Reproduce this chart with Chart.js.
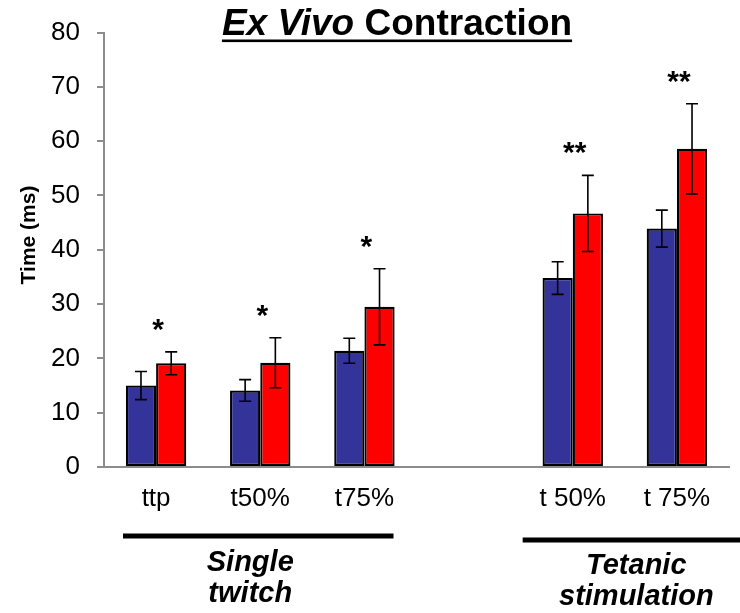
<!DOCTYPE html>
<html>
<head>
<meta charset="utf-8">
<title>Ex Vivo Contraction</title>
<script src="https://cdn.jsdelivr.net/npm/chart.js@4.4.0/dist/chart.umd.min.js"></script>
<style>
  html, body { margin: 0; padding: 0; background: #fff; }
  #wrap { width: 740px; height: 613px; }
</style>
</head>
<body>
<div id="wrap"><canvas id="contraction" width="740" height="613"></canvas></div>
<script>
// empty slot between the single twitch and tetanic groups
const categories = ['ttp', 't50%', 't75%', '', 't 50%', 't 75%'];
const controlMeans = [15.0, 14.1, 21.4, null, 34.8, 43.9];
const controlErr   = [2.6, 2.0, 2.3, null, 3.0, 3.4];
const treatedMeans = [19.1, 19.2, 29.5, null, 46.7, 58.6];
const treatedErr   = [2.1, 4.6, 7.0, null, 7.0, 8.3];
const significance = ['*', '*', '*', '', '**', '**'];
const groups = [
  { lines: ['Single', 'twitch'], from: 0, to: 2 },
  { lines: ['Tetanic', 'stimulation'], from: 4, to: 5 }
];

const FONT = "'Liberation Sans', Arial, sans-serif";
Chart.defaults.font.family = FONT;
Chart.defaults.color = '#000';

const errorBars = {
  id: 'errorBars',
  afterDatasetsDraw(chart) {
    const ctx = chart.ctx;
    const y = chart.scales.y;
    ctx.save();
    ctx.strokeStyle = '#000';
    ctx.lineWidth = 1.6;
    chart.data.datasets.forEach((ds, di) => {
      chart.getDatasetMeta(di).data.forEach((bar, i) => {
        const v = ds.data[i];
        if (v == null) return;
        const top = y.getPixelForValue(v + ds.errors[i]);
        const bot = y.getPixelForValue(v - ds.errors[i]);
        ctx.beginPath();
        ctx.moveTo(bar.x, top); ctx.lineTo(bar.x, bot);
        ctx.moveTo(bar.x - 6, top); ctx.lineTo(bar.x + 6, top);
        ctx.moveTo(bar.x - 6, bot); ctx.lineTo(bar.x + 6, bot);
        ctx.stroke();
      });
    });
    ctx.restore();
  }
};

const decorations = {
  id: 'decorations',
  afterDraw(chart) {
    const ctx = chart.ctx;
    const x = chart.scales.x, y = chart.scales.y;
    ctx.save();
    ctx.fillStyle = '#000';
    ctx.strokeStyle = '#000';

    // title: italic "Ex Vivo", then upright "Contraction", underlined
    const italicFont = 'italic bold 37px ' + FONT;
    const boldFont = 'bold 37px ' + FONT;
    ctx.font = italicFont;
    const w1 = ctx.measureText('Ex Vivo ').width;
    ctx.font = boldFont;
    const w2 = ctx.measureText('Contraction').width;
    const tx = 397 - (w1 + w2) / 2, ty = 35;
    ctx.textBaseline = 'alphabetic';
    ctx.textAlign = 'left';
    ctx.font = italicFont;
    ctx.fillText('Ex Vivo ', tx, ty);
    ctx.font = boldFont;
    ctx.fillText('Contraction', tx + w1, ty);
    ctx.fillRect(tx, 39.5, w1 + w2, 2.6);

    // y axis title
    ctx.save();
    ctx.translate(29, 235);
    ctx.rotate(-Math.PI / 2);
    ctx.textAlign = 'center';
    ctx.textBaseline = 'middle';
    ctx.font = 'bold 21px ' + FONT;
    ctx.fillText('Time (ms)', 0, 0);
    ctx.restore();

    // significance marks above the treated error bars
    ctx.textAlign = 'center';
    ctx.textBaseline = 'alphabetic';
    ctx.font = 'bold 30px ' + FONT;
    significance.forEach((s, i) => {
      if (!s) return;
      const errTop = y.getPixelForValue(treatedMeans[i] + treatedErr[i]);
      ctx.fillText(s, x.getPixelForValue(i) + 2, errTop - 13);
    });

    // group brackets and labels under the axis
    const half = x.width / categories.length / 2;
    const bars = [
      { x0: x.getPixelForValue(groups[0].from) - half + 19, x1: x.getPixelForValue(groups[0].to) + half - 23, y: 536, tx: -8, ty: 571 },
      { x0: x.getPixelForValue(groups[1].from) - half + 2, x1: chart.width, y: 540, tx: 5, ty: 574 }
    ];
    ctx.font = 'italic bold 29px ' + FONT;
    bars.forEach((b, gi) => {
      ctx.fillRect(b.x0, b.y - 2.5, b.x1 - b.x0, 5);
      const cx = (b.x0 + b.x1) / 2 + b.tx;
      groups[gi].lines.forEach((t, li) => ctx.fillText(t, cx, b.ty + li * 31));
    });
    ctx.restore();
  }
};

new Chart(document.getElementById('contraction'), {
  type: 'bar',
  data: {
    labels: categories,
    datasets: [
      { label: 'Control', data: controlMeans, errors: controlErr, backgroundColor: '#333399' },
      { label: 'Treated', data: treatedMeans, errors: treatedErr, backgroundColor: '#ff0000' }
    ]
  },
  options: {
    responsive: false,
    animation: false,
    datasets: {
      bar: { categoryPercentage: 0.58, barPercentage: 1.0, borderColor: '#000', borderWidth: 2.2, borderSkipped: false }
    },
    layout: { padding: { top: 30, right: 11, left: 0, bottom: 0 } },
    plugins: { legend: { display: false }, tooltip: { enabled: false } },
    scales: {
      x: {
        grid: { display: false, drawTicks: false },
        border: { color: '#8c8c8c', width: 2 },
        ticks: { font: { size: 26 }, padding: 16 },
        afterFit: s => { s.height = 146; }
      },
      y: {
        min: 0, max: 80,
        ticks: { stepSize: 10, font: { size: 26 }, padding: 17 },
        grid: { drawOnChartArea: false, tickLength: 7, color: '#8c8c8c', lineWidth: 2 },
        border: { color: '#8c8c8c', width: 2 },
        afterFit: s => { s.width = 104; }
      }
    }
  },
  plugins: [errorBars, decorations]
});
</script>
</body>
</html>
